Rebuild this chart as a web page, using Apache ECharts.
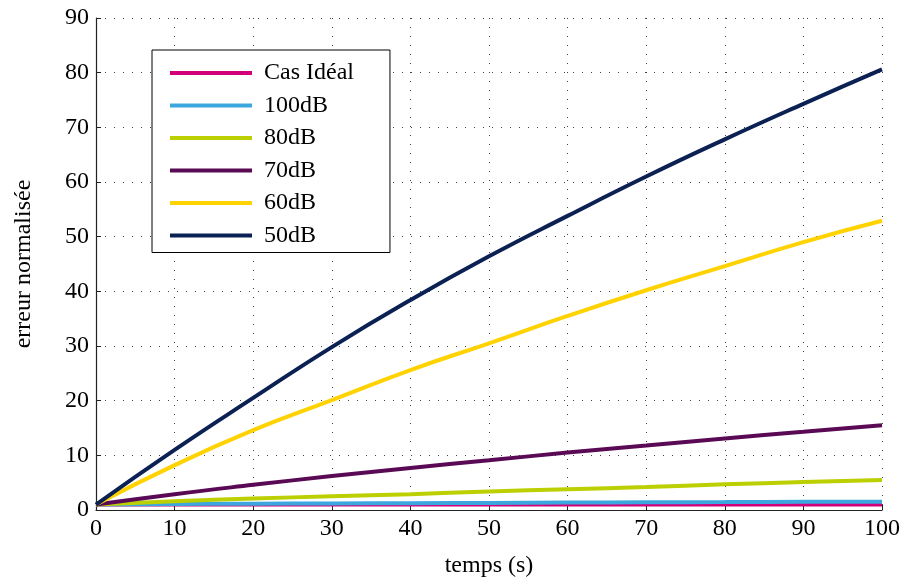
<!DOCTYPE html>
<html><head><meta charset="utf-8">
<script src="https://cdn.jsdelivr.net/npm/echarts@6/dist/echarts.min.js"></script>
<style>html,body{margin:0;padding:0;background:#fff}#c{width:903px;height:577px}</style>
</head><body><div id="c"></div>
<script>
const times = [0,10,20,30,40,50,60,70,80,90,100];
const seriesNames = ['Cas Idéal','100dB','80dB','70dB','60dB','50dB'];
const casIdeal = [1,1,1,1,1,1,1,1,1,1,1];
const db100 = [1,1.1,1.15,1.2,1.25,1.3,1.35,1.4,1.45,1.5,1.5];
const db80 = [1,1.6,2.1,2.5,2.9,3.4,3.8,4.2,4.7,5.1,5.5];
const db70 = [1,2.9,4.6,6.2,7.7,9.1,10.5,11.8,13.1,14.3,15.5];
const db60 = [1,8.2,14.6,20.1,25.6,30.5,35.5,40.2,44.6,49,52.9];
const db50 = [1,11,20.5,29.8,38.4,46.4,53.8,61,67.8,74.3,80.6];
const yTicks = [0,10,20,30,40,50,60,70,80,90];
const colors = ['#d1007a','#3ca7de','#bccf00','#5a0a55','#ffd200','#0b2154'];
const allData = [casIdeal, db100, db80, db70, db60, db50];
const font = 'Liberation Serif';
const chart = echarts.init(document.getElementById('c'));
chart.setOption({
  animation:false,
  backgroundColor:'#fff',
  grid:{left:96,right:21,top:18,bottom:67,containLabel:false,outerBoundsMode:'none'},
  legend:{
    orient:'vertical', left:152, top:50,
    data: seriesNames.map(n=>({name:n, icon:'rect'})),
    itemWidth:82, itemHeight:4, itemGap:8.5,
    backgroundColor:'#fff', borderColor:'#000', borderWidth:1,
    padding:[11,36,5,18],
    textStyle:{fontFamily:font,fontSize:24,color:'#000',lineHeight:24,padding:[0,0,0,7]}
  },
  xAxis:{
    type:'value', min:0, max:100, interval:10,
    name:'temps (s)', nameLocation:'middle', nameGap:44,
    nameTextStyle:{fontFamily:font,fontSize:24,color:'#000'},
    axisLine:{lineStyle:{color:'#222',width:1.2}},
    axisTick:{inside:true,length:5,lineStyle:{color:'#222'}},
    axisLabel:{fontFamily:font,fontSize:24,color:'#000',margin:7},
    splitLine:{show:true,lineStyle:{color:'#444',width:1,type:[1,8]}}
  },
  yAxis:{
    type:'value', min:0, max:90, interval:10,
    name:'erreur normalisée', nameLocation:'middle', nameGap:60,
    nameTextStyle:{fontFamily:font,fontSize:24,color:'#000'},
    axisLine:{show:true,lineStyle:{color:'#222',width:1.2}},
    axisTick:{show:true,inside:true,length:5,lineStyle:{color:'#222'}},
    axisLabel:{fontFamily:font,fontSize:24,color:'#000',margin:7},
    splitLine:{show:true,lineStyle:{color:'#444',width:1,type:[1,8]}}
  },
  series: seriesNames.map((n,i)=>({
    name:n, type:'line', smooth:true, showSymbol:false, symbol:'none',
    data: times.map((t,j)=>[t, allData[i][j]]),
    itemStyle:{color:colors[i]},
    lineStyle:{color:colors[i],width:4}
  }))
});
</script></body></html>
